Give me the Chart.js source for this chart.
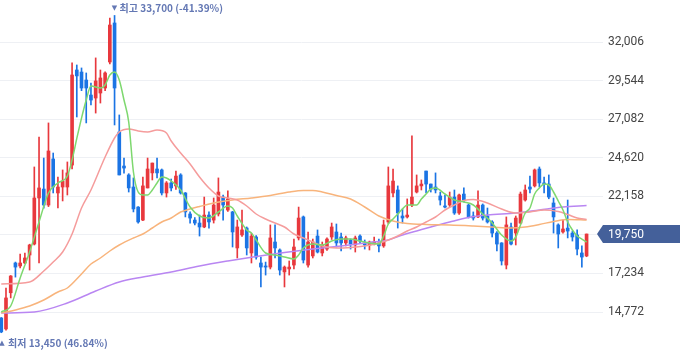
<!DOCTYPE html>
<html>
<head>
<meta charset="utf-8">
<script src="https://cdn.jsdelivr.net/npm/chart.js@4.4.1/dist/chart.umd.min.js"></script>
<style>
  html, body { margin: 0; padding: 0; background: #fff; }
  #wrap { width: 680px; height: 358px; }
</style>
</head>
<body>
<div id="wrap"><canvas id="myChart" width="680" height="358"></canvas></div>

<script>
// daily candles, oldest first
const opens  = [14390,13690,16000,17900,17710,17900,18410,19110,22050,22620,21600,24540,22370,22750,22750,24150,30220,30090,29580,28620,
                28430,28750,29070,30730,33220,26260,24090,23520,22750,21470,20640,22690,23650,23900,23840,22370,23010,22820,23520,22370,
                21030,20640,20450,20200,20960,20640,21030,22110,21280,21160,18860,19690,20130,18540,19560,17900,17710,17640,19240,18730,
                17330,17520,17770,19500,20840,17770,18350,19620,18540,18790,19560,19880,19560,19180,19370,19050,19620,19180,19050,19110,
                19180,18990,20520,22370,22560,20900,20840,21600,22430,22820,23770,22940,22750,22180,21540,21600,22110,21090,22300,21600,
                20900,20840,21600,20900,20520,19810,19180,17770,20200,19810,20450,21920,22750,22820,23900,23010,22940,21730,20330,19880,
                20130,19810,19690,18540,18350];
const highs  = [14420,16300,17100,17960,18470,18540,19100,24030,25940,24600,26840,24920,23390,23840,24350,30670,30540,30350,30030,29390,
                30990,30220,30100,33540,33700,27350,24600,23600,23330,21500,23390,24600,24280,24600,23900,23100,23260,23770,23600,22400,
                21160,20800,20960,22110,21160,22050,23330,22240,22500,21200,20640,21280,20200,19800,19650,18280,17960,20330,20330,18800,
                17710,18030,19430,21470,20900,19880,19430,20010,19240,19500,20450,20390,19810,19620,19430,19620,19690,19370,19300,19560,
                19430,20640,24030,23900,22820,21350,21990,26010,23520,23200,23770,22940,23650,22430,22240,22430,22560,22300,22690,21670,
                21160,22500,21670,21410,20600,19900,19200,20840,20450,20900,22430,22880,23450,23900,24030,23390,23520,22050,20400,20640,
                21920,19940,20010,18990,19750];
const lows   = [13450,13620,15670,17000,17580,17850,17450,19050,17900,21400,21500,22370,21410,21860,22240,23900,27220,28900,26840,27990,
                27470,28110,28900,30600,26710,23520,23640,22430,21160,20450,20600,22690,23200,23330,22240,22110,22500,22600,22300,20840,
                20450,20330,19620,20150,20130,20450,20900,20640,21200,18920,18220,19600,18410,17900,18150,16370,17130,17520,18220,17130,
                16370,17130,17520,19370,17900,17640,18220,18540,18350,18700,19400,18920,18670,18990,18790,18600,19180,18790,18730,19050,
                18600,18900,20400,22110,20130,20450,20770,21500,22370,22560,22370,22430,22370,21600,21410,21500,21000,21000,21800,20770,
                20640,20800,20640,20450,19560,18670,17770,17520,19050,19050,20400,21850,22370,22750,22750,22370,22000,19810,18860,19800,
                19500,19300,18410,17640,18300];
const closes = [13500,15670,17070,17640,17900,18220,19050,22050,22690,21600,25050,22750,22750,23130,23650,29900,29840,29070,29070,28300,
                29520,29710,30030,33090,29070,23520,23960,22690,21350,20520,22820,23900,24280,23650,22370,23010,22690,23450,22370,21160,
                20770,20450,20200,20960,20520,21600,22430,21600,21990,19880,20200,20010,18860,19620,18280,17640,17640,19500,18860,17450,
                17640,17640,18920,20770,18090,19240,19240,18600,19050,19430,20200,19180,19180,19500,19110,19500,19300,19050,19240,19240,
                18990,20330,22820,23130,21090,20770,20960,22110,22820,22940,22940,22620,22560,21920,21470,22110,21090,22240,21920,20840,
                20770,21600,20770,20520,19810,19110,18030,20330,19110,20770,22300,22560,22620,23840,23010,22940,22110,20840,19750,20070,
                19940,19560,18790,18280,19750];

// moving averages: [candle index, value]
const ma5 = [[0,14772],[2,15155],[4,16942],[6,18602],[8,20517],[10,22368],[12,23006],[14,23453],[15,24474],[16,25850],[17,27150],
             [18,28304],[19,29197],[21,29070],[22,29261],[23,29899],[24,30091],[25,29580],[26,28304],[27,26900],[28,23708],[29,22432],
             [30,22240],[31,22240],[32,22559],[33,23006],[34,23389],[35,23325],[36,23134],[38,22559],[40,21474],[42,20900],[44,20772],
             [46,21155],[48,21538],[49,21410],[50,20900],[52,20006],[53,19814],[54,19368],[56,18538],[58,18410],[60,18283],[62,18155],
             [63,18410],[64,18857],[66,19112],[68,19049],[70,19304],[72,19431],[74,19431],[76,19304],[78,19176],[80,19112],[81,19623],
             [82,20389],[83,20708],[84,21027],[85,21346],[86,21602],[88,21602],[89,21985],[90,22304],[91,22623],[92,22687],[94,22304],
             [96,21921],[98,21793],[100,21602],[102,21027],[104,20453],[106,19687],[108,19304],[109,19559],[110,20325],[111,21091],
             [112,21410],[113,22304],[114,22687],[115,22942],[116,22879],[117,22432],[118,21857],[119,21283],[120,20517],[121,20006],
             [122,19623],[123,19431],[124,19240]];
const ma20 = [[0,16559],[6,16687],[9,17389],[11,17964],[13,18602],[15,19751],[17,21410],[19,22559],[22,24666],[24,25879],[25,26261],
              [27,26453],[29,26325],[31,26261],[33,26389],[35,26197],[36,25687],[38,24921],[40,24219],[42,23389],[44,22687],[46,22176],
              [48,22049],[50,21921],[52,21538],[54,21027],[56,20708],[58,20453],[60,20198],[62,19751],[64,19495],[66,19240],[68,18985],
              [71,18857],[74,18889],[77,18985],[80,19176],[82,19368],[84,19623],[86,19942],[88,20198],[90,20517],[92,20836],[94,21283],
              [96,21602],[98,21889],[100,21953],[103,21729],[106,21346],[109,21091],[112,21155],[115,21283],[118,21187],[120,20996],
              [122,20772],[124,20676]];
const ma60 = [[0,14708],[3,14900],[6,15155],[9,15538],[12,16049],[14,16304],[17,17198],[19,17836],[21,18219],[23,18666],[25,19049],
              [28,19495],[30,19751],[32,20134],[34,20517],[36,20772],[38,21155],[40,21346],[42,21506],[45,21729],[49,21921],[53,22049],
              [57,22208],[61,22432],[64,22527],[66,22527],[68,22432],[71,22208],[74,21985],[77,21474],[80,20900],[83,20581],[86,20421],
              [90,20357],[95,20325],[100,20261],[104,20198],[108,20134],[111,20198],[114,20357],[117,20549],[120,20676],[124,20644]];
const ma120 = [[0,14708],[7,14772],[14,15346],[20,16112],[25,16687],[30,17006],[36,17325],[42,17708],[48,18027],[54,18315],[60,18570],
               [66,18793],[72,18985],[78,19208],[82,19368],[85,19687],[88,19942],[91,20198],[95,20517],[99,20804],[103,20964],[109,21091],
               [114,21283],[119,21474],[124,21570]];

const tickVals = [14772, 17234, 19696, 22158, 24620, 27082, 29544, 32006];

const UP = '#e8383d', DOWN = '#1b74e4';
const candleColors = opens.map((o, i) => closes[i] >= o ? UP : DOWN);
const toPts = a => a.map(p => ({x: p[0], y: p[1]}));
const fmt = v => Math.round(v).toLocaleString('en-US');

const lineDs = (label, arr, color) => ({
    type: 'line', label: label, data: toPts(arr), borderColor: color, borderWidth: 1.5,
    pointRadius: 0, spanGaps: true, cubicInterpolationMode: 'monotone', order: 0
});

// high / low markers and last price badge
const marks = {
    id: 'marks',
    afterDraw(chart) {
        const ctx = chart.ctx, xs = chart.scales.x, ys = chart.scales.y, area = chart.chartArea;
        const last = closes[closes.length - 1];
        const labelFont = 'bold 10px "Noto Sans CJK KR"';
        let hi = 0, lo = 0;
        highs.forEach((v, i) => { if (v > highs[hi]) hi = i; });
        lows.forEach((v, i) => { if (v < lows[lo]) lo = i; });

        ctx.save();
        ctx.fillStyle = '#6478b4';
        ctx.textBaseline = 'middle';

        let x = xs.getPixelForValue(hi), y = ys.getPixelForValue(highs[hi]) - 7;
        ctx.font = '7px "DejaVu Sans"';
        ctx.textAlign = 'center';
        ctx.fillText('▼', x, y);
        ctx.font = labelFont;
        ctx.textAlign = 'left';
        ctx.fillText('최고 ' + fmt(highs[hi]) + ' (' + ((last / highs[hi] - 1) * 100).toFixed(2) + '%)', x + 5, y);

        x = Math.max(xs.getPixelForValue(lo), area.left + 2);
        y = ys.getPixelForValue(lows[lo]) + 10;
        ctx.font = '7px "DejaVu Sans"';
        ctx.textAlign = 'center';
        ctx.fillText('▲', x, y);
        ctx.font = labelFont;
        ctx.textAlign = 'left';
        ctx.fillText('최저 ' + fmt(lows[lo]) + ' (' + ((last / lows[lo] - 1) * 100).toFixed(2) + '%)', x + 6, y);

        // price badge
        y = ys.getPixelForValue(last);
        const r = area.right;
        ctx.fillStyle = '#44609a';
        ctx.beginPath();
        ctx.moveTo(r - 6, y);
        ctx.lineTo(r, y - 9);
        ctx.lineTo(chart.width, y - 9);
        ctx.lineTo(chart.width, y + 9);
        ctx.lineTo(r, y + 9);
        ctx.closePath();
        ctx.fill();
        ctx.fillStyle = '#ffffff';
        ctx.font = '12px Roboto';
        ctx.fillText(fmt(last), r + 5, y + 0.5);
        ctx.restore();
    }
};

const config = {
    type: 'bar',
    data: {
        datasets: [
            lineDs('MA5', ma5, '#7ed86f'),
            lineDs('MA20', ma20, '#f59c9c'),
            lineDs('MA60', ma60, '#f8b47c'),
            lineDs('MA120', ma120, '#b986f2'),
            {
                label: 'body',
                data: opens.map((o, i) => ({x: i, y: [o, closes[i]]})),
                backgroundColor: candleColors,
                barThickness: 3,
                minBarLength: 1,
                grouped: false,
                order: 1
            },
            {
                label: 'wick',
                data: lows.map((l, i) => ({x: i, y: [l, highs[i]]})),
                backgroundColor: candleColors,
                barThickness: 1,
                grouped: false,
                order: 2
            }
        ]
    },
    options: {
        responsive: false,
        animation: false,
        layout: { padding: 0 },
        plugins: { legend: { display: false }, tooltip: { enabled: false } },
        scales: {
            x: { type: 'linear', min: -0.27, max: 127.48, offset: false, display: false },
            y: {
                position: 'right',
                min: 11836,
                max: 34687,
                grid: { color: '#eef0f4', drawTicks: false },
                border: { display: false },
                ticks: {
                    padding: 5,
                    color: '#444',
                    font: { size: 12, family: 'Roboto' },
                    callback: v => fmt(v)
                },
                afterBuildTicks: s => { s.ticks = tickVals.map(v => ({ value: v })); },
                afterFit: s => { s.width = 77; s.paddingTop = 0; s.paddingBottom = 0; }
            }
        }
    },
    plugins: [marks]
};

var chart = new Chart(document.getElementById('myChart'), config);
</script>
</body>
</html>
